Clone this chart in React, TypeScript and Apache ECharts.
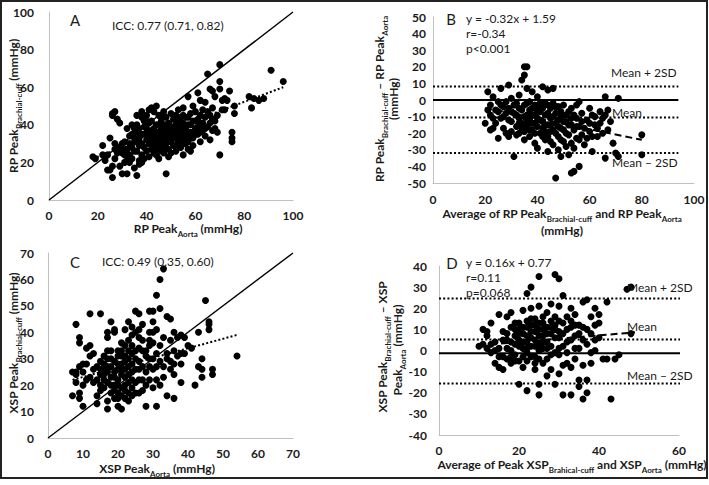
import React, { useEffect, useRef } from "react";
import * as echarts from "echarts";

// ---- Panel A: RP Peak Aorta (x) vs RP Peak Brachial-cuff (y)
const rpScatter: number[][] = [
  [18,23],[19,22],[22,29],[22,24],[23,21],[24,16],[25,16],[25,33],[26,12],[26,18],[26,45],[26,46],[27,47],[27,27],[27,22],[28,28],[28,43],[28,25],[29,41],[29,18],[30,14],[30,30],[30,25],[31,20],[31,31],[32,14],[32,21],[32,38],[32,27],[33,20],[33,24],[33,30],[34,35],[34,28],[34,22],[35,17],[35,33],[35,31],[36,13],[36,40],[36,36],[36,26],[37,21],[37,19],[37,33],[37,38],[38,47],[38,30],[38,24],[38,20],[39,42],[39,35],[39,28],[39,22],[40,45],[40,38],[40,32],[40,26],[41,48],[41,36],[41,30],[41,23],[42,49],[42,42],[42,33],[42,27],[43,47],[43,38],[43,35],[43,29],[43,25],[44,50],[44,40],[44,32],[44,24],[45,45],[45,36],[45,30],[45,26],[46,42],[46,38],[46,34],[46,28],[46,32],[47,47],[47,39],[47,33],[47,25],[48,44],[48,36],[48,30],[48,14],[49,41],[49,35],[49,27],[50,46],[50,38],[50,31],[50,25],[51,43],[51,36],[51,29],[52,40],[52,33],[52,26],[53,48],[53,38],[53,31],[54,44],[54,35],[54,28],[55,49],[55,41],[55,33],[55,24],[56,38],[56,30],[57,55],[57,44],[57,36],[57,27],[58,40],[58,33],[59,50],[59,42],[59,29],[60,47],[60,38],[61,57],[61,43],[61,35],[62,53],[62,40],[62,31],[63,48],[63,37],[64,52],[64,44],[64,34],[65,67],[65,47],[65,39],[66,59],[66,41],[66,32],[67,58],[67,49],[67,43],[68,55],[68,38],[69,45],[69,36],[70,72],[70,59],[70,63],[70,24],[71,53],[71,48],[72,54],[74,58],[75,31],[75,33],[75,36],[76,46],[76,50],[82,55],[83,49],[84,54],[86,53],[88,54],[91,69],[96,63],
  [34,40],[35,26],[36,31],[37,29],[38,35],[39,39],[40,35],[41,41],[42,37],[42,30],[43,31],[44,36],[44,28],[45,40],[45,33],[46,45],[47,36],[47,30],[48,40],[48,33],[49,38],[49,31],[50,34],[51,39],[51,33],[52,36],[52,29],[53,34],[53,42],[54,39],[54,31],[55,36],[56,34],[56,44],[57,40],[58,36],[58,46],[59,33],[60,42],[61,39],[62,45],[63,41],[64,38],[66,45],[67,37],[68,42],[72,48],[73,53],[40,42],[38,44],[29,27],[31,24],[33,34],[24,24],[23,23],[30,27],[27,30],[35,38],[36,45],[45,22],[47,27],[49,23],[52,45],[55,45],[60,35],[62,36],[58,26],[57,31]
];
const rpIdentity: number[][] = [[0,0],[100,100]];
const rpTrend: number[][] = [[18,22],[96,60]];

// ---- Panel B: Bland-Altman RP
const rpBA: number[][] = [
  [20,-14],[21,5],[21,-6],[22,-9],[22,-18],[23,2],[23,-11],[24,-14],[25,-23],[25,-7],[26,7],[26,-3],[27,-17],[27,-10],[28,-1],[28,-20],[29,9],[29,-5],[30,-13],[30,-19],[30,1],[31,-34],[31,-8],[32,-2],[32,-16],[33,-11],[33,3],[33,-20],[34,-6],[34,-14],[34,12],[35,20],[35,15],[35,-3],[35,-19],[36,20],[36,-9],[36,7],[36,-16],[37,-1],[37,-22],[37,-12],[38,5],[38,-5],[38,-18],[39,-9],[39,-26],[39,-14],[40,2],[40,-29],[40,-11],[40,-4],[41,-7],[41,-20],[42,8],[42,-13],[42,-17],[43,-2],[43,-24],[43,-9],[44,6],[44,-31],[44,-15],[45,-5],[45,-19],[45,-11],[46,7],[46,-27],[46,-2],[47,-47],[47,-14],[47,-8],[48,-22],[48,-30],[48,-4],[49,-34],[49,-17],[49,-10],[50,-25],[50,-3],[51,-20],[51,-13],[52,-33],[52,-7],[53,-44],[53,-26],[53,-15],[54,-43],[54,-18],[54,-29],[55,-11],[55,-23],[56,-40],[56,-1],[56,-16],[57,-8],[57,-21],[58,-27],[59,-12],[60,-5],[60,-19],[61,-31],[61,-9],[62,-15],[63,-22],[64,-7],[65,-11],[66,-35],[66,2],[67,-6],[67,-18],[69,-26],[70,-32],[71,1],[71,-34],[80,-33],[80,-21],
  [31,-3],[32,-9],[33,-5],[34,-17],[35,-10],[36,-2],[36,-13],[37,-6],[37,-18],[38,-9],[38,-14],[39,-3],[39,-20],[40,-7],[40,-16],[41,-12],[41,-2],[42,-22],[42,-5],[43,-15],[43,-19],[44,-8],[44,-3],[44,-22],[45,-15],[45,-25],[46,-10],[46,-18],[47,-4],[47,-20],[48,-12],[48,-16],[49,-7],[49,-24],[50,-13],[50,-18],[51,-9],[51,-28],[52,-15],[52,-21],[53,-11],[53,-5],[54,-9],[55,-16],[55,-3],[56,-24],[57,-13],[58,-17],[59,-23],[60,-14],[61,-22],[62,-10],[63,-17],[64,-14],[65,-20],[66,-9],[68,-13],[28,-8],[29,-12],[27,-4],[26,-11],[24,-6],[23,-17],[22,-3],[25,-1],[30,-7],[32,-21],[33,-14],[35,-24],[29,-22]
];
const rpBAZero = 0;
const rpBAUpper = 8.2;
const rpBAMean = -10.6;
const rpBALower = -31.9;
const rpBALineEnd = 94;
const rpBATrend: number[][] = [[20,-4.8],[80,-24]];

// ---- Panel C: XSP Peak Aorta (x) vs XSP Peak Brachial-cuff (y)
const xspScatter: number[][] = [
  [7,16],[7,25],[8,43],[8,21],[8,25],[9,38],[9,36],[9,17],[9,15],[10,28],[10,12],[10,25],[11,28],[11,34],[12,47],[12,35],[12,31],[13,21],[13,32],[14,13],[14,16],[14,27],[15,47],[15,18],[15,29],[15,24],[16,22],[16,31],[16,19],[16,26],[17,38],[17,40],[17,14],[17,11],[17,27],[17,33],[18,44],[18,23],[18,17],[18,30],[19,40],[19,41],[19,25],[19,20],[19,15],[20,33],[20,28],[20,12],[20,22],[20,17],[21,36],[21,31],[21,26],[21,11],[21,19],[22,35],[22,29],[22,23],[22,15],[22,41],[23,44],[23,37],[23,33],[23,27],[23,21],[23,17],[24,42],[24,32],[24,25],[24,19],[25,48],[25,40],[25,30],[25,21],[26,47],[26,38],[26,34],[26,26],[26,17],[27,33],[27,43],[27,22],[28,12],[28,25],[28,31],[29,48],[29,40],[29,37],[29,22],[29,27],[30,48],[30,44],[30,36],[30,19],[30,26],[31,54],[31,41],[31,32],[31,22],[31,12],[32,60],[32,49],[32,29],[32,20],[33,64],[33,38],[33,23],[34,16],[34,46],[34,30],[35,45],[35,37],[35,26],[36,33],[36,40],[36,24],[36,15],[37,31],[37,38],[38,21],[38,28],[38,39],[39,32],[40,35],[41,34],[42,20],[43,27],[43,40],[44,30],[44,23],[44,26],[45,52],[46,41],[46,43],[46,44],[47,26],[47,24],[54,31],
  [14,22],[15,26],[15,20],[16,24],[16,28],[17,21],[17,30],[17,25],[18,27],[18,20],[18,33],[19,29],[19,23],[19,18],[20,26],[20,31],[20,20],[20,15],[21,24],[21,28],[21,33],[21,16],[22,26],[22,31],[22,20],[22,18],[23,24],[23,30],[23,14],[24,28],[24,22],[24,35],[24,16],[25,26],[25,33],[25,17],[26,29],[26,22],[27,27],[27,37],[27,18],[28,33],[28,20],[29,35],[29,30],[30,30],[31,27],[32,35],[33,27],[34,32],[35,29],[36,28],[38,32],[39,38],[30,40],[26,41],[24,39],[13,26],[12,23],[11,22],[9,27],[10,20],[8,24]
];
const xspIdentity: number[][] = [[0,0],[70,70]];
const xspTrend: number[][] = [[7,22],[54,39]];

// ---- Panel D: Bland-Altman XSP
const xspBA: number[][] = [
  [10,2],[11,3],[11,10],[12,7],[12,9],[13,-1],[13,13],[14,-6],[14,4],[15,1],[15,-8],[15,17],[16,-3],[16,9],[16,-9],[17,16],[17,5],[17,-4],[18,18],[18,11],[18,0],[18,-6],[19,13],[19,7],[19,3],[19,-2],[20,-16],[20,10],[20,5],[20,-5],[21,19],[21,1],[21,8],[21,-8],[22,27],[22,14],[22,11],[22,4],[22,-1],[22,-19],[23,30],[23,20],[23,-3],[23,6],[23,12],[24,15],[24,9],[24,-9],[24,2],[25,35],[25,21],[25,-21],[25,-16],[25,0],[25,7],[25,13],[26,16],[26,4],[26,-6],[26,10],[27,-12],[27,18],[27,8],[27,1],[28,22],[28,11],[28,-9],[28,-2],[29,36],[29,16],[29,6],[29,-16],[30,34],[30,21],[30,-11],[30,9],[30,1],[31,-21],[31,26],[31,13],[31,-7],[32,16],[32,4],[32,-1],[33,-21],[33,11],[33,20],[33,-8],[34,17],[34,7],[34,-4],[35,-17],[35,-14],[35,12],[35,1],[36,-23],[36,23],[36,5],[36,-7],[37,-20],[37,-14],[37,24],[37,10],[38,-6],[38,-1],[38,16],[39,20],[39,5],[39,0],[40,13],[40,17],[41,-4],[42,-4],[42,23],[43,-23],[44,-4],[45,-2],[47,29],[48,30],[48,8],
  [17,1],[17,8],[18,4],[18,-3],[19,10],[19,-5],[20,2],[20,8],[20,13],[21,4],[21,11],[21,-3],[22,7],[22,1],[22,-5],[23,9],[23,2],[23,15],[24,5],[24,12],[24,-3],[24,-6],[25,3],[25,10],[25,-4],[26,7],[26,13],[26,1],[27,11],[27,4],[27,-4],[28,8],[28,14],[28,2],[29,10],[29,-1],[29,12],[30,6],[30,14],[30,-2],[31,8],[31,2],[32,10],[32,-6],[33,5],[33,14],[34,1],[34,12],[35,8],[36,11],[37,3],[38,8],[39,12],[40,6],[16,5],[15,-3],[14,0],[13,3],[12,1]
];
const xspBAZero = -1.3;
const xspBAUpper = 24.6;
const xspBAMean = 5.2;
const xspBALower = -15.6;
const xspBALineEnd = 63.5;
const xspBATrend: number[][] = [[10,2.4],[49,8.6]];

const FONT = "Lato, 'Open Sans', sans-serif";
const INK = "#1a1a1a";

const rich = {
  b: { fontFamily: FONT, fontWeight: "bold", fontSize: 12, lineHeight: 15, verticalAlign: "top", fill: INK },
  s: { fontFamily: FONT, fontWeight: "bold", fontSize: 8, lineHeight: 8, padding: [7, 0, 0, 0], verticalAlign: "top", fill: INK },
};

function axisCommon(min: number, max: number, interval: number, margin: number) {
  return {
    type: "value",
    min, max, interval,
    axisLine: { show: true, onZero: false, lineStyle: { color: "#c0c0c0", width: 1 } },
    axisTick: { show: false },
    splitLine: { show: false },
    axisLabel: { fontFamily: FONT, fontWeight: "bold", fontSize: 12, color: INK, margin },
  };
}

function scatter(data: number[][], idx: number) {
  return {
    type: "scatter", xAxisIndex: idx, yAxisIndex: idx, data,
    symbolSize: 7, itemStyle: { color: "#000", opacity: 1 }, z: 2,
  };
}

function line(data: number[][], idx: number, style: any) {
  return {
    type: "line", xAxisIndex: idx, yAxisIndex: idx, data,
    showSymbol: false, symbol: "none", clip: false, z: 3,
    lineStyle: { color: "#000", ...style }, silent: true,
  };
}

function hline(y: number, xEnd: number, idx: number, style: any) {
  return line([[0, y], [xEnd, y]], idx, style);
}

function label(x: number, y: number, text: string, size = 12, align = "left") {
  return {
    type: "text", x, y, z: 10,
    style: { text, fontFamily: FONT, fontSize: size, fill: INK, align, verticalAlign: "middle" },
  };
}

function title(x: number, y: number, text: string, rotate = false) {
  return {
    type: "text", x, y, z: 10, rotation: rotate ? Math.PI / 2 : 0,
    style: { text, rich, align: "center", verticalAlign: "middle", fill: INK },
  };
}

const DOT = { width: 2, type: [2, 2.2] };
const SOLID_THICK = { width: 2, type: "solid" };
const SOLID = { width: 1.4, type: "solid" };
const DASH = { width: 2, type: [7, 4] };

export default function App() {
  const ref = useRef<HTMLDivElement>(null);
  useEffect(() => {
    if (!ref.current) return;
    const chart = echarts.init(ref.current, null, { renderer: "svg" });
    chart.setOption({
      animation: false,
      backgroundColor: "#fff",
      grid: [
        { left: 49, top: 12, width: 244, height: 188 },
        { left: 433, top: 17, width: 261, height: 166 },
        { left: 48, top: 253, width: 245, height: 185 },
        { left: 439, top: 266, width: 240, height: 169 },
      ],
      xAxis: [
        { ...axisCommon(0, 100, 20, 9), gridIndex: 0 },
        { ...axisCommon(0, 100, 20, 10), gridIndex: 1 },
        { ...axisCommon(0, 70, 10, 9), gridIndex: 2 },
        { ...axisCommon(0, 60, 20, 9), gridIndex: 3 },
      ],
      yAxis: [
        { ...axisCommon(0, 100, 20, 15), gridIndex: 0 },
        { ...axisCommon(-50, 50, 10, 7), gridIndex: 1 },
        { ...axisCommon(0, 70, 10, 14), gridIndex: 2 },
        { ...axisCommon(-40, 40, 10, 12), gridIndex: 3 },
      ],
      series: [
        scatter(rpScatter, 0),
        line(rpIdentity, 0, SOLID),
        line(rpTrend, 0, DOT),

        scatter(rpBA, 1),
        hline(rpBAZero, rpBALineEnd, 1, SOLID_THICK),
        hline(rpBAUpper, rpBALineEnd, 1, DOT),
        hline(rpBAMean, rpBALineEnd, 1, DOT),
        hline(rpBALower, rpBALineEnd, 1, DOT),
        line(rpBATrend, 1, DASH),

        scatter(xspScatter, 2),
        line(xspIdentity, 2, SOLID),
        line(xspTrend, 2, DOT),

        scatter(xspBA, 3),
        hline(xspBAZero, xspBALineEnd, 3, SOLID_THICK),
        hline(xspBAUpper, xspBALineEnd, 3, DOT),
        hline(xspBAMean, xspBALineEnd, 3, DOT),
        hline(xspBALower, xspBALineEnd, 3, DOT),
        line(xspBATrend, 3, DASH),
      ],
      graphic: [
        { type: "rect", shape: { x: 1, y: 1, width: 706, height: 477 }, style: { fill: "none", stroke: "#222", lineWidth: 2 }, z: 20 },
        // Panel A
        label(75, 20, "A", 15, "center"),
        label(112, 25, "ICC: 0.77 (0.71, 0.82)"),
        title(15, 106, "{b|RP Peak}{s|Brachial-cuff}{b| (mmHg)}", true),
        title(188, 230, "{b|RP Peak}{s|Aorta}{b| (mmHg)}"),
        // Panel B
        label(451, 19, "B", 15, "center"),
        label(466, 18, "y = -0.32x + 1.59"),
        label(466, 33, "r=-0.34"),
        label(466, 48, "p<0.001"),
        label(611, 72, "Mean + 2SD"),
        label(612, 112, "Mean"),
        label(612, 162, "Mean \u2013 2SD"),
        title(381, 99, "{b|RP Peak}{s|Brachial-cuff}{b| \u2013 RP Peak}{s|Aorta}", true),
        title(395, 99, "{b|(mmHg)}", true),
        title(562, 215, "{b|Average of RP Peak}{s|Brachial-cuff}{b| and RP Peak}{s|Aorta}"),
        title(562, 232, "{b|(mmHg)}"),
        // Panel C
        label(75, 262, "C", 15, "center"),
        label(102, 261, "ICC: 0.49 (0.35, 0.60)"),
        title(15, 343, "{b|XSP Peak}{s|Brachial-cuff}{b| (mmHg)}", true),
        title(157, 470, "{b|XSP Peak}{s|Aorta}{b| (mmHg)}"),
        // Panel D
        label(452, 263, "D", 15, "center"),
        label(466, 262, "y = 0.16x + 0.77"),
        label(466, 277, "r=0.11"),
        label(466, 292, "p=0.068"),
        label(627, 287, "Mean + 2SD"),
        label(627, 326, "Mean"),
        label(627, 375, "Mean \u2013 2SD"),
        title(384, 347, "{b|XSP Peak}{s|Brachial-cuff}{b| \u2013 XSP}", true),
        title(399, 350, "{b|Peak}{s|Aorta}{b| (mmHg)}", true),
        title(572, 466, "{b|Average of Peak XSP}{s|Brahical-cuff}{b| and XSP}{s|Aorta}{b| (mmHg)}"),
      ],
    });
    return () => chart.dispose();
  }, []);
  return (
    <div
      ref={ref}
      style={{ position: "fixed", left: 0, top: 0, width: 709, height: 485, background: "#fff" }}
    />
  );
}
